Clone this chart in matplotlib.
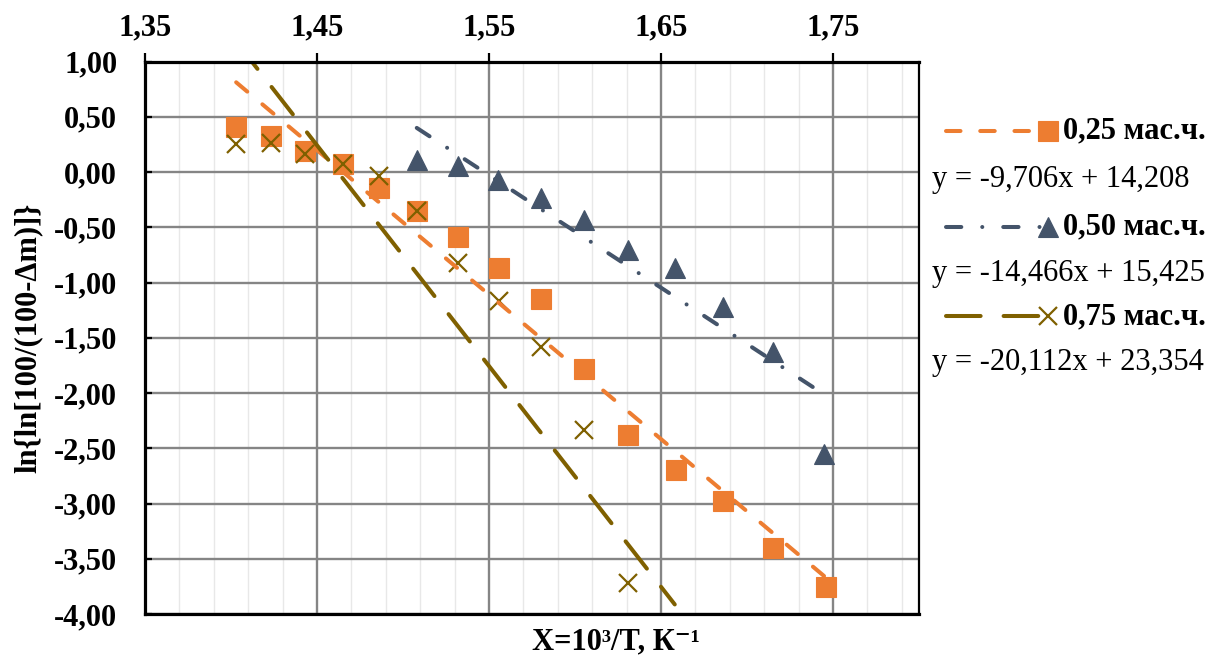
import numpy as np
import matplotlib
matplotlib.use("Agg")
import matplotlib.pyplot as plt
from matplotlib.lines import Line2D
from matplotlib.ticker import FixedLocator, MultipleLocator, FuncFormatter

# ---- data: X = 10^3/T (K^-1) and ln{ln[100/(100-dm)]} ----
x_025 = [1.403, 1.423, 1.443, 1.465, 1.486, 1.508, 1.532, 1.556, 1.580,
         1.605, 1.631, 1.659, 1.686, 1.715, 1.746]
y_025 = [0.41, 0.325, 0.19, 0.072, -0.149, -0.354, -0.592, -0.868, -1.145,
         -1.785, -2.377, -2.694, -2.981, -3.40, -3.757]

x_050 = [1.508, 1.532, 1.555, 1.580, 1.605, 1.631, 1.658, 1.686, 1.715, 1.745]
y_050 = [0.108, 0.051, -0.076, -0.239, -0.433, -0.705, -0.873, -1.221,
         -1.631, -2.549]

x_075 = [1.403, 1.423, 1.443, 1.465, 1.486, 1.508, 1.532, 1.556, 1.580,
         1.605, 1.631, 1.658]
y_075 = [0.25, 0.259, 0.159, 0.069, -0.037, -0.354, -0.822, -1.167, -1.583,
         -2.338, -3.715, -5.6]

series_labels = ["0,25 мас.ч.", "0,50 мас.ч.", "0,75 мас.ч."]
equations = ["y = -9,706x + 14,208", "y = -14,466x + 15,425",
             "y = -20,112x + 23,354"]

x_ticks = [1.35, 1.45, 1.55, 1.65, 1.75]
y_ticks = [1.0, 0.5, 0.0, -0.5, -1.0, -1.5, -2.0, -2.5, -3.0, -3.5, -4.0]

# ---- styling ----
W, H = 1232, 669
SERIF = ["Liberation Serif", "DejaVu Serif"]
FS = 22
c_or = "#ED7D31"
c_bl = "#44546A"
c_ol = "#7F6000"
LW = 2.9

series = [
    dict(x=x_025, y=y_025, color=c_or, marker="s", ms=15, mew=0.8,
         mfc=c_or, dashes=(3.6, 4.9)),
    dict(x=x_050, y=y_050, color=c_bl, marker="^", ms=14.5, mew=0.8,
         mfc=c_bl, dashes=(3.8, 5.2, 0.01, 5.2)),
    dict(x=x_075, y=y_075, color=c_ol, marker="x", ms=13.5, mew=1.6,
         mfc="none", dashes=(8.6, 5.7)),
]

plt.rcParams["font.family"] = SERIF
fig = plt.figure(figsize=(W / 100, H / 100), dpi=100)
left, right, top, bottom = 145, 919, 61.5, 614
ax = fig.add_axes([left / W, 1 - bottom / H, (right - left) / W, (bottom - top) / H])

ax.set_xlim(1.35, 1.80)
ax.set_ylim(-4.0, 1.0)

# grid
ax.xaxis.set_major_locator(FixedLocator(x_ticks))
ax.xaxis.set_minor_locator(MultipleLocator(0.02, offset=0.01))
ax.yaxis.set_major_locator(FixedLocator(y_ticks))
ax.grid(which="major", color="#858585", linewidth=1.7, zorder=0)
ax.grid(which="minor", axis="x", color="#e8e8e8", linewidth=1.0, zorder=0)
ax.set_axisbelow(True)

# markers
for i, s in enumerate(series):
    ax.plot(s["x"], s["y"], linestyle="none", marker=s["marker"],
            markersize=s["ms"], markerfacecolor=s["mfc"],
            markeredgecolor=s["color"], markeredgewidth=s["mew"],
            zorder=3 + 0.1 * i)

# linear trend lines (least squares)
for s in series:
    k, b = np.polyfit(s["x"], s["y"], 1)
    xs = np.array([min(s["x"]), max(s["x"])])
    ln, = ax.plot(xs, k * xs + b, color=s["color"], linewidth=LW, zorder=4)
    ln.set_dashes(s["dashes"])
    ln.set_dash_capstyle("round")

# axes frame
for side in ["left", "top", "bottom"]:
    ax.spines[side].set_linewidth(2.3)
ax.spines["right"].set_linewidth(1.6)
for sp in ax.spines.values():
    sp.set_color("black")
    sp.set_zorder(5)

fmt = FuncFormatter(lambda v, p: f"{v:.2f}".replace(".", ","))
ax.xaxis.tick_top()
ax.xaxis.set_major_formatter(fmt)
ax.yaxis.set_major_formatter(fmt)
ax.tick_params(axis="x", which="major", direction="out", length=6.5, width=1.6,
               pad=7, labelsize=FS, top=True, bottom=False)
ax.tick_params(axis="x", which="minor", length=0, top=False, bottom=False)
ax.tick_params(axis="y", which="major", direction="in", length=5, width=1.6,
               pad=20, labelsize=FS)
for lab in ax.get_xticklabels() + ax.get_yticklabels():
    lab.set_fontweight("bold")

ax.xaxis.set_label_position("bottom")
ax.set_xlabel("X=10³/T, К⁻¹", fontsize=FS, fontweight="bold")
ax.xaxis.label.set_verticalalignment("center")
ax.xaxis.set_label_coords((616 - left) / (right - left), (bottom - 642) / (bottom - top))
ax.set_ylabel("ln{ln[100/(100-Δm)]}", fontsize=FS, fontweight="bold")
ax.yaxis.label.set_verticalalignment("center")
ax.yaxis.set_label_coords((28 - left) / (right - left), 0.5)

# legend with trend-line equations
def fx(px):
    return px / W

def fy(py):
    return 1 - py / H

row_y = [131, 226.5, 316.5]
eq_y = [179.5, 273, 362]
for s, lab, eq, ry, ey in zip(series, series_labels, equations, row_y, eq_y):
    seg = Line2D([fx(946), fx(1040)], [fy(ry), fy(ry)], transform=fig.transFigure,
                 color=s["color"], linewidth=LW)
    seg.set_dashes(s["dashes"])
    seg.set_dash_capstyle("round")
    fig.add_artist(seg)
    mk = Line2D([fx(1048)], [fy(ry)], transform=fig.transFigure, linestyle="none",
                marker=s["marker"], markersize=s["ms"], markerfacecolor=s["mfc"],
                markeredgecolor=s["color"], markeredgewidth=s["mew"])
    fig.add_artist(mk)
    fig.text(fx(1063), fy(ry), lab, fontsize=FS, fontweight="bold",
             ha="left", va="center")
    fig.text(fx(932), fy(ey), eq, fontsize=FS, ha="left", va="center")

fig.savefig("out.png", dpi=100)
